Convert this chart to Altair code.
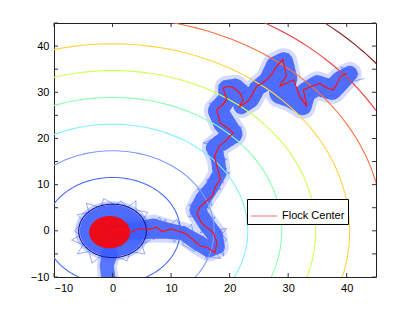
import altair as alt
import pandas as pd
import numpy as np

# ---- data ----
x_ticks = [-10, 0, 10, 20, 30, 40]
y_ticks = [-10, -5, 0, 5, 10, 15, 20, 25, 30, 35, 40, 45]

contour_radii = [5.78, 11.56, 17.34, 23.1, 28.9, 34.7, 40.5, 46.2, 52.0, 57.8]
contour_colors = ["#15158f", "#4a6aff", "#7c9cff", "#7ff0ff", "#8cffb0",
                  "#ccff55", "#ffd445", "#ff7040", "#f23a3a", "#8a2020"]

# flock center path (after leaving the origin cluster)
center_x = [0.0, 1.5, 3.0, 4.5, 6.0, 7.5, 8.5, 10.0, 11.5, 12.5, 13.8, 15.0, 16.2, 17.5, 17.8,
            17.2, 16.0, 15.2, 14.4, 15.0, 15.8, 17.0, 17.6, 18.4, 18.0, 17.4, 18.2, 19.5,
            20.6, 19.5, 18.4, 17.8, 18.8, 19.5, 18.9, 19.8, 20.6, 21.8, 22.3, 21.7, 22.6,
            23.4, 24.6, 25.5, 26.3, 27.2, 28.0, 29.1, 29.7, 29.0, 28.6, 29.8, 30.9, 32.0,
            33.2, 32.6, 33.8, 35.4, 36.5, 37.7, 38.4, 38.9, 40.0]
center_y = [0.0, 0.6, -0.4, 0.5, 0.2, 0.8, -0.2, 0.4, -0.2, -0.6, -2.0, -3.3, -3.6, -4.7, -2.5,
            -0.4, 0.8, 1.7, 3.8, 5.3, 6.2, 7.5, 9.6, 11.2, 13.2, 16.1, 18.3, 19.7,
            21.2, 22.4, 23.3, 26.2, 27.3, 28.4, 30.9, 31.3, 31.0, 29.8, 28.4, 26.9, 27.6,
            28.4, 31.3, 31.9, 32.7, 33.9, 35.6, 37.1, 33.5, 32.2, 31.3, 32.0, 32.7, 29.1,
            26.9, 30.5, 31.2, 31.9, 31.0, 30.5, 32.0, 33.4, 34.1]

# swarm envelope around the flock path: x, y, width (px)
band_x = [0.0, 4.0, 7.0, 9.5, 12.0, 14.5, 16.5, 18.0, 17.5, 16.0, 14.5, 15.5, 17.0, 18.3, 18.0,
          17.3, 19.0, 20.5, 19.0, 18.0, 19.5, 19.5, 21.0, 22.5, 22.0, 23.5, 24.8, 26.5, 28.0,
          29.2, 29.5, 28.8, 30.5, 32.5, 33.0, 35.0, 37.5, 39.0, 40.5]
band_y = [0.0, 0.0, 0.5, 0.0, -0.5, -2.5, -4.0, -3.5, -1.0, 1.5, 4.5, 7.0, 9.5, 12.5, 15.5,
          18.0, 19.5, 21.0, 23.5, 26.0, 28.5, 31.0, 31.0, 29.5, 27.0, 28.5, 31.0, 32.5, 35.5,
          36.5, 33.0, 30.0, 29.0, 27.0, 30.0, 31.5, 30.5, 32.5, 34.0]
band_w = [18, 18, 20, 16, 14, 16, 16, 14, 16, 16, 16, 16, 14, 14, 14,
          16, 18, 20, 22, 20, 18, 16, 18, 16, 16, 18, 16, 18, 22,
          20, 24, 24, 22, 18, 20, 20, 20, 20, 16]

tail_x = [-0.5, -1.0, -0.8, -0.5]
tail_y = [-5.0, -7.5, -9.5, -11.0]
tail_w = [16, 14, 14, 14]

# individual agent scribbles (ragged edges of the swarm)
agent1_x = [0, 3, 5, 6.5, 8, 9, 11, 12, 13.5, 14, 15.5, 16, 17.5, 19, 18.5, 19.5, 16.5, 17.5,
            14.5, 16.5, 13, 16, 14.5, 18.5, 16, 20, 17, 19.5, 16.5, 18.5, 15.5, 19, 21.5, 22,
            18.5, 20.5, 16.5, 19.5, 17.5, 21, 18, 20, 21.5, 24, 22.5, 24.5, 23.5, 26, 25.5,
            27.5, 27, 29, 30, 31, 28, 31.5, 27, 30, 32, 34, 31.5, 34, 36, 37, 38, 40, 38.5,
            41.5, 40, 43]
agent1_y = [5, 2.5, 3.5, 1, 3, 0.5, 2.5, -0.5, 1.5, -3, -1, -6, -2.5, -5.5, -1, 0.5, 0, 3,
            2, 5, 5.5, 8, 9, 9, 11, 12.5, 13.5, 15.5, 16, 18.5, 19, 21, 19, 22.5,
            22, 24.5, 25, 26.5, 28.5, 28, 30.5, 32.5, 29.5, 30.5, 26, 27.5, 32, 30, 34,
            31.5, 37, 34, 38.5, 35, 33, 31, 29.5, 27.5, 25.5, 28, 29.5, 33, 29.5, 33, 28.5, 31.5, 34.5,
            35, 32, 33]
agent2_x = [-2, 1, 4, 5.5, 7, 9, 10.5, 12.5, 12, 14, 15, 16, 18.5, 17, 19.5, 17.5, 15, 16.5,
            13, 15, 17, 16, 19, 17.5, 19.5, 17, 19, 16, 17.5, 20.5, 21.5, 19.5, 21, 17.5, 19,
            16.5, 18.5, 18, 21, 20.5, 23, 21, 23.5, 23, 25.5, 24, 27, 26.5, 29, 28, 31, 30,
            27.5, 29, 31.5, 33.5, 32, 34.5, 33, 36, 35.5, 38.5, 37.5, 40, 39, 42, 40.5]
agent2_y = [6, -1, -2, 2, -2, 2.5, -2.5, 1, -3, -4.5, -1.5, -5.5, -6, -4, -2, 1, -0.5, 3.5,
            3, 6.5, 5.5, 9, 10.5, 12, 13.5, 15, 17, 17.5, 20.5, 18.5, 21, 21.5, 23, 23.5, 27,
            27.5, 29, 31.5, 33, 30, 31.5, 27, 26.5, 29, 29.5, 32.5, 32, 35, 37.5, 34.5, 36, 32,
            31, 28.5, 29.5, 25.5, 28.5, 30, 32, 32.5, 29, 29.5, 32, 33, 35.5, 34, 31.5]
agent3_x = [-6.5, -5, -6, -4, -4.5, -2, -1.5, 0.5, 1.5, 2.5, 4, 4, 6, 5, 7, 5.5, 6.5, 5, 5.5,
            3, 2.5, 0.5, -0.5, -2, -3.5, -4, -6, -5, -7, -5.5, -6.5]
agent3_y = [0, 2, 3.5, 4, 6, 5, 7, 5.5, 6.5, 5, 6.5, 4.5, 4, 2, 1.5, 0, -2, -3, -5,
            -4.5, -6.5, -5.5, -7, -5.5, -7, -4.5, -5, -3, -2, -1, 0]

blob_center = (0.0, 0.0)
blob_radius_outer = 6.4
blob_radius_inner = 5.6
core_center = (-0.5, -0.3)
core_radius = 3.5

legend_label = "Flock Center"

# ---- build tables ----
ang = np.linspace(0, 2 * np.pi, 181)
circ_rows = []
for k, r in enumerate(contour_radii):
    for i, a in enumerate(ang):
        circ_rows.append({"k": k, "i": i, "x": r * np.cos(a), "y": r * np.sin(a)})
circles = pd.DataFrame(circ_rows)


def ellipse(cx, cy, r):
    xs = np.linspace(-r, r, 121)
    h = np.sqrt(np.clip(r * r - xs * xs, 0, None))
    return pd.DataFrame({"x": cx + xs, "y": cy + h, "y2": cy - h})


blob_outer = ellipse(blob_center[0], blob_center[1], blob_radius_outer)
blob_inner = ellipse(blob_center[0], blob_center[1], blob_radius_inner)
core = ellipse(core_center[0], core_center[1], core_radius)

band = pd.DataFrame({"x": band_x, "y": band_y, "w": band_w, "i": range(len(band_x))})
band["w2"] = band["w"] + 8
tail = pd.DataFrame({"x": tail_x, "y": tail_y, "w": tail_w, "i": range(len(tail_x))})
tail["w2"] = tail["w"] + 6
path = pd.DataFrame({"x": center_x, "y": center_y, "i": range(len(center_x)),
                     "s": legend_label})
agents = pd.concat([
    pd.DataFrame({"x": agent1_x, "y": agent1_y, "a": 1, "i": range(len(agent1_x))}),
    pd.DataFrame({"x": agent2_x, "y": agent2_y, "a": 2, "i": range(len(agent2_x))}),
    pd.DataFrame({"x": agent3_x, "y": agent3_y, "a": 3, "i": range(len(agent3_x))}),
])
xt = pd.DataFrame({"x": x_ticks})
yt = pd.DataFrame({"y": y_ticks})

xs = alt.Scale(domain=[-10, 45], nice=False, zero=False)
ys = alt.Scale(domain=[-10, 45], nice=False, zero=False)
X = alt.X("x:Q", scale=xs, axis=alt.Axis(values=x_ticks, title=None, grid=False))
Y = alt.Y("y:Q", scale=ys, axis=alt.Axis(values=y_ticks, title=None, grid=False))
Xn = alt.X("x:Q", scale=xs)
Yn = alt.Y("y:Q", scale=ys)

BLUE = "#3a5cff"
W, H = 322, 254

fringe = alt.Chart(band).mark_trail(color=BLUE, opacity=0.22, clip=True).encode(
    x=X, y=Y, order="i:Q", size=alt.Size("w2:Q", scale=None, legend=None))
bandm = alt.Chart(band).mark_trail(color=BLUE, opacity=0.85, clip=True).encode(
    x=Xn, y=Yn, order="i:Q", size=alt.Size("w:Q", scale=None, legend=None))
tailf = alt.Chart(tail).mark_trail(color=BLUE, opacity=0.22, clip=True).encode(
    x=Xn, y=Yn, order="i:Q", size=alt.Size("w2:Q", scale=None, legend=None))
tailm = alt.Chart(tail).mark_trail(color=BLUE, opacity=0.8, clip=True).encode(
    x=Xn, y=Yn, order="i:Q", size=alt.Size("w:Q", scale=None, legend=None))
bo = alt.Chart(blob_outer).mark_area(color=BLUE, opacity=0.3, clip=True).encode(
    x=Xn, y=Yn, y2="y2:Q")
bi = alt.Chart(blob_inner).mark_area(color=BLUE, opacity=0.85, clip=True).encode(
    x=Xn, y=Yn, y2="y2:Q")
ag = alt.Chart(agents).mark_line(color="#4466ff", strokeWidth=0.8, opacity=0.7,
                                 clip=True).encode(
    x=Xn, y=Yn, order="i:Q", detail="a:N")
circ = alt.Chart(circles).mark_line(strokeWidth=1.1, clip=True).encode(
    x=Xn, y=Yn, order="i:Q", detail="k:N",
    color=alt.Color("k:N", scale=alt.Scale(domain=list(range(10)), range=contour_colors),
                    legend=None))
corem = alt.Chart(core).mark_area(color="#ff0000", opacity=0.9, clip=True).encode(
    x=Xn, y=Yn, y2="y2:Q")
redline = alt.Chart(path).mark_line(strokeWidth=1.2, clip=True).encode(
    x=Xn, y=Yn, order="i:Q",
    color=alt.Color("s:N", scale=alt.Scale(domain=[legend_label], range=["#ff1010"]),
                    legend=alt.Legend(title=None, orient="none", legendX=193, legendY=176,
                                      symbolType="stroke", symbolSize=700,
                                      symbolStrokeWidth=1.5, symbolOpacity=0.4,
                                      strokeColor="black", fillColor="white",
                                      padding=3, labelFontSize=11,
                                      labelFont="Liberation Sans", labelColor="black")))

TICK = "#333"
tb = alt.Chart(xt).mark_rule(color=TICK).encode(x=Xn, y=alt.value(H), y2=alt.value(H - 4))
tt = alt.Chart(xt).mark_rule(color=TICK).encode(x=Xn, y=alt.value(0), y2=alt.value(4))
tl = alt.Chart(yt).mark_rule(color=TICK).encode(y=Yn, x=alt.value(0), x2=alt.value(4))
tr = alt.Chart(yt).mark_rule(color=TICK).encode(y=Yn, x=alt.value(W), x2=alt.value(W - 4))

chart = alt.layer(fringe, bandm, tailf, tailm, bo, bi, ag, circ, corem, redline,
                  tb, tt, tl, tr).resolve_scale(
    color="independent"
).properties(
    width=W, height=H,
    padding={"left": 46, "top": 15, "right": 20, "bottom": 20},
    autosize=alt.AutoSizeParams(type="none"),
).configure_view(
    stroke="#222", strokeWidth=1
).configure_axis(
    labelFont="Liberation Sans", labelFontSize=11, labelColor="black",
    domain=False, ticks=False, labelPadding=5,
)

chart.save("out.html", embed_options={"renderer": "svg", "actions": False})
